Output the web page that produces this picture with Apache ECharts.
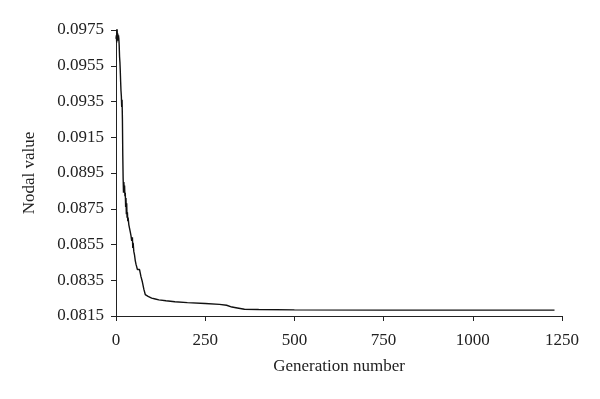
<!DOCTYPE html>
<html>
<head>
<meta charset="utf-8">
<script src="https://cdn.jsdelivr.net/npm/echarts@6/dist/echarts.min.js"></script>
<style>
  html, body { margin: 0; padding: 0; background: #fff; }
  #chart { width: 600px; height: 399px; }
</style>
</head>
<body>
<div id="chart"></div>
<script>
// generation number (x) and nodal value (y)
var generations = [0, 1, 2, 3, 4, 5, 6, 7, 8, 9, 10, 11, 12, 13, 14, 15, 16, 17, 18, 19,
  20, 21, 22, 23, 24, 25, 26, 27, 28, 29, 30, 31, 32, 33, 34, 36, 38, 40, 42, 44,
  46, 47, 48, 50, 52, 54, 56, 58, 60, 62, 64, 66, 68, 70, 72, 74, 76, 78, 80, 82,
  84, 86, 90, 95, 100, 110, 120, 140, 165, 200, 250, 290, 310, 325, 340, 360, 400,
  500, 750, 1000, 1229];
var nodalValues = [0.0970, 0.0972, 0.0968, 0.0976, 0.0971, 0.0973, 0.0969, 0.0972, 0.0970, 0.0966,
  0.0960, 0.0957, 0.0952, 0.0946, 0.0941, 0.0938, 0.0932, 0.0936, 0.0925, 0.0905,
  0.0892, 0.0884, 0.0890, 0.0886, 0.0888, 0.0882, 0.0884, 0.0876, 0.0881, 0.0872,
  0.0878, 0.0870, 0.0873, 0.0868, 0.0870, 0.0866, 0.0864, 0.0862, 0.0860, 0.0857,
  0.0859, 0.0853, 0.0856, 0.0851, 0.0849, 0.0846, 0.0844, 0.0843, 0.0841, 0.0842,
  0.0840, 0.0841, 0.0839, 0.0837, 0.0838, 0.0834, 0.0835, 0.0830, 0.0829, 0.0827,
  0.0828, 0.0826, 0.0826, 0.0825, 0.0825, 0.08245, 0.0824, 0.08235, 0.0823, 0.08225,
  0.0822, 0.08215, 0.0821, 0.0820, 0.08195, 0.08188, 0.08186, 0.08184, 0.08183, 0.08183,
  0.08183];

var yTicks = [0.0815, 0.0835, 0.0855, 0.0875, 0.0895, 0.0915, 0.0935, 0.0955, 0.0975];
var xTicks = [0, 250, 500, 750, 1000, 1250];

var seriesData = generations.map(function (g, i) { return [g, nodalValues[i]]; });

var font = "'Liberation Serif', 'DejaVu Serif', serif";
var myChart = echarts.init(document.getElementById('chart'));

myChart.setOption({
  animation: false,
  backgroundColor: '#fff',
  grid: { left: 116, right: 38, top: 30, bottom: 83 },
  xAxis: {
    type: 'value',
    min: xTicks[0],
    max: xTicks[xTicks.length - 1],
    interval: 250,
    name: 'Generation number',
    nameLocation: 'middle',
    nameGap: 42,
    nameTextStyle: { fontFamily: font, fontSize: 17, color: '#222' },
    axisLine: { lineStyle: { color: '#222', width: 1 } },
    axisTick: { show: true, length: 5, inside: false, lineStyle: { color: '#222' } },
    axisLabel: {
      fontFamily: font, fontSize: 17, color: '#222', margin: 16,
      formatter: function (v) { return String(v); }
    },
    splitLine: { show: false }
  },
  yAxis: {
    type: 'value',
    min: yTicks[0],
    max: yTicks[yTicks.length - 1],
    name: 'Nodal value',
    nameLocation: 'middle',
    nameGap: 78,
    nameRotate: 90,
    nameTextStyle: { fontFamily: font, fontSize: 17, color: '#222' },
    axisLine: { show: true, lineStyle: { color: '#222', width: 1 } },
    axisTick: { show: true, length: 5, customValues: yTicks, lineStyle: { color: '#222' } },
    axisLabel: {
      fontFamily: font, fontSize: 17, color: '#222', margin: 12,
      customValues: yTicks,
      formatter: function (v) { return v.toFixed(4); }
    },
    splitLine: { show: false }
  },
  series: [{
    type: 'line',
    data: seriesData,
    showSymbol: false,
    symbol: 'none',
    lineStyle: { color: '#111', width: 1.4 }
  }]
});
</script>
</body>
</html>
